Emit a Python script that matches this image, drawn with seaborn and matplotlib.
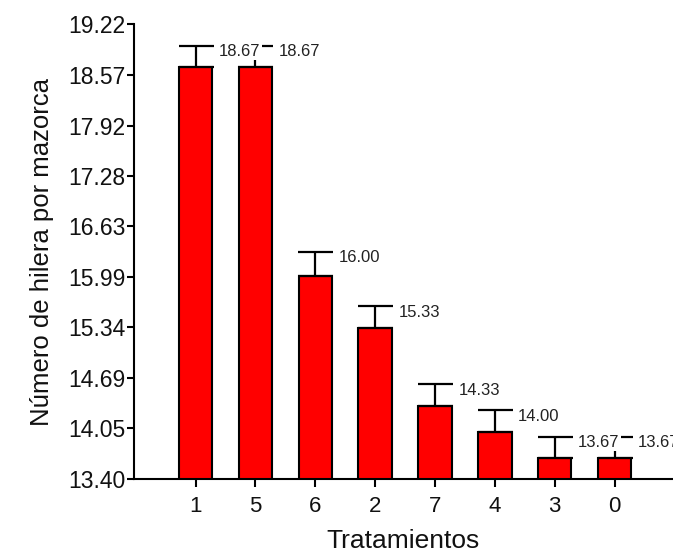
import numpy as np
import pandas as pd
import matplotlib
matplotlib.use("Agg")
import matplotlib.pyplot as plt
import seaborn as sns

# Data
treatments = ["1", "5", "6", "2", "7", "4", "3", "0"]
means = [18.67, 18.67, 16.00, 15.33, 14.33, 14.00, 13.67, 13.67]
errors = [0.27, 0.27, 0.31, 0.28, 0.28, 0.28, 0.27, 0.27]
yticks = [13.40, 14.05, 14.69, 15.34, 15.99, 16.63, 17.28, 17.92, 18.57, 19.22]

sns.set_style("ticks")
plt.rcParams["font.family"] = ["Liberation Sans", "DejaVu Sans"]

df = pd.DataFrame({"Tratamientos": treatments, "valor": means})

fig = plt.figure(figsize=(6.73, 5.54), dpi=100)
ax = fig.add_axes([134 / 673, 75 / 554, (672 - 134) / 673, (479 - 24) / 554])

sns.barplot(data=df, x="Tratamientos", y="valor", order=treatments,
            color="#ff0000", saturation=1, edgecolor="black", linewidth=1.5,
            width=0.56, errorbar=None, ax=ax, zorder=2)

xpos = np.arange(len(treatments))
ax.errorbar(xpos, means, yerr=[np.zeros(len(errors)), errors], fmt="none",
            ecolor="black", elinewidth=1.6, capsize=12.6, capthick=1.6, zorder=3)

for i, (m, e) in enumerate(zip(means, errors)):
    ax.annotate(f"{m:.2f}", xy=(i + 0.39, m + e), xytext=(0, 1.2),
                textcoords="offset points", ha="left", va="top", fontsize=12,
                color="#222222",
                bbox=dict(facecolor="white", edgecolor="none", pad=0.8),
                zorder=5, annotation_clip=False)

ax.set_ylim(13.40, 19.22)
ax.set_xlim(-1.03, 7.96)
ax.set_yticks(yticks)
ax.set_yticklabels([f"{t:.2f}" for t in yticks])

for side in ["top", "right"]:
    ax.spines[side].set_visible(False)
for side in ["left", "bottom"]:
    ax.spines[side].set_linewidth(1.5)
    ax.spines[side].set_color("black")

ax.tick_params(axis="y", direction="out", length=5, width=1.5, pad=1,
               labelsize=16.5, colors="black")
ax.tick_params(axis="x", direction="out", length=6, width=1.5, pad=6,
               labelsize=16, colors="black")
for lbl in ax.get_yticklabels() + ax.get_xticklabels():
    lbl.set_color("#111111")

ax.set_xlabel("Tratamientos", fontsize=19, labelpad=9, color="#111111")
ax.set_ylabel("Número de hilera por mazorca", fontsize=18.5, labelpad=10,
              color="#111111")

fig.savefig("out.png", dpi=100)
